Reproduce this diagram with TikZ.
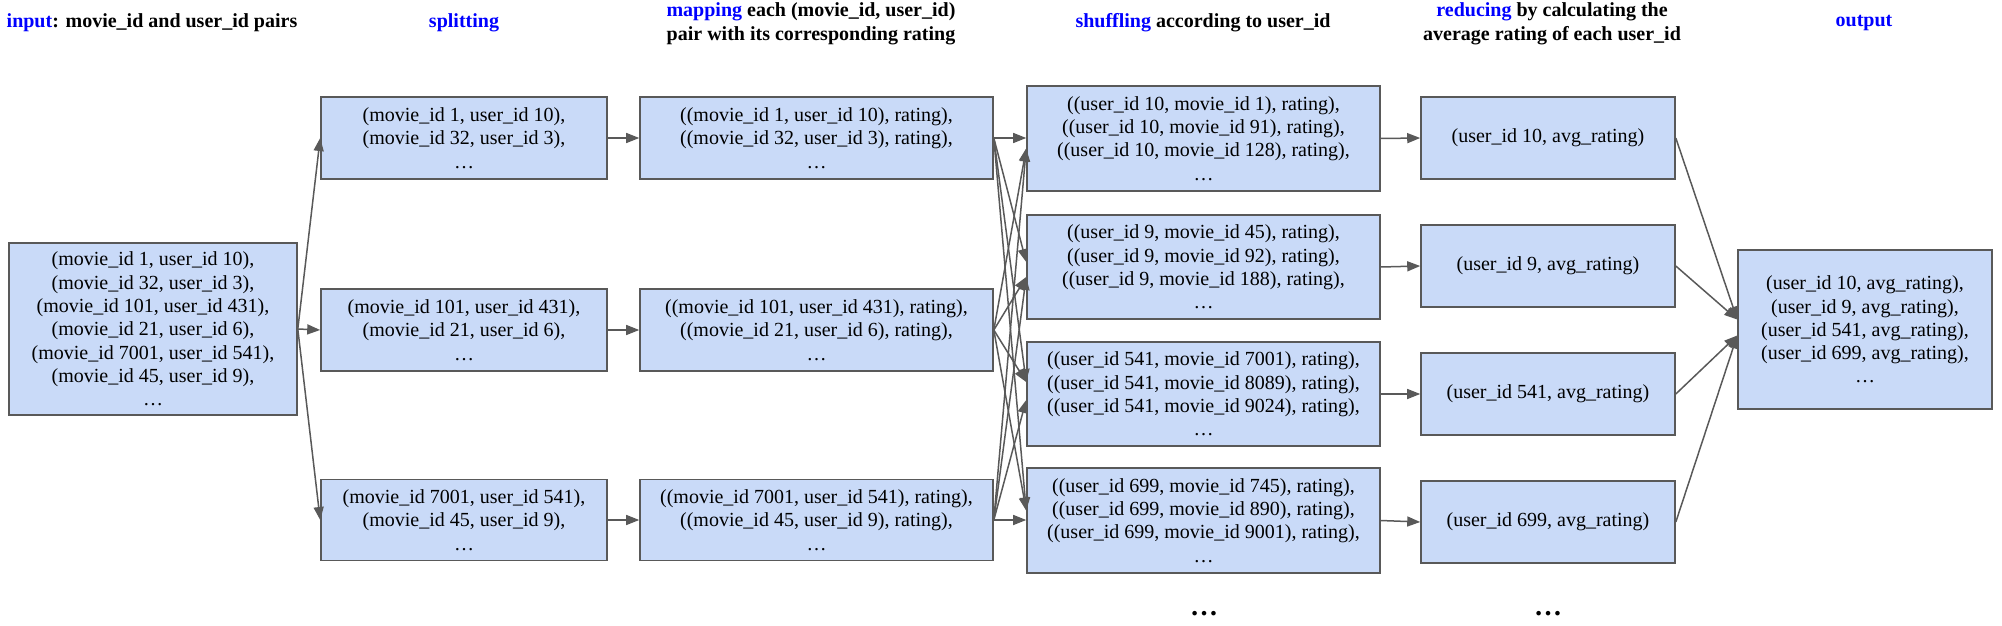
\documentclass[tikz,border=0pt]{standalone}
\usepackage{fontspec}
\setmainfont{Liberation Serif}
\usetikzlibrary{arrows.meta,calc}
\definecolor{boxfill}{HTML}{C9DAF8}
\definecolor{boxline}{HTML}{595959}
\definecolor{arrowcol}{HTML}{595959}
\definecolor{titleblue}{HTML}{0000FF}
\begin{document}
\begin{tikzpicture}[x=1pt,y=-1pt,
  box/.style={draw=boxline, fill=boxfill, line width=1.6pt, align=center, inner sep=0pt,
    font=\fontsize{20}{23.3}\selectfont},
  title/.style={align=center, inner sep=0pt, font=\bfseries\fontsize{20}{24}\selectfont},
  arr/.style={draw=arrowcol, line width=1.5pt, -{Triangle[length=13pt,width=10pt]}},
  dots/.style={inner sep=0pt, font=\bfseries\fontsize{28}{30}\selectfont}]
\useasboundingbox (0,0) rectangle (2002,626);

% titles
\node[title] (t1) at (152,23) {\textcolor{titleblue}{input}: movie\_id and user\_id pairs};
\node[title] (t2) at (464,23) {\textcolor{titleblue}{splitting}};
\node[title] (t3) at (811,24) {\textcolor{titleblue}{mapping} each (movie\_id, user\_id)\\pair with its corresponding rating};
\node[title] (t4) at (1203,23) {\textcolor{titleblue}{shuffling} according to user\_id};
\node[title] (t5) at (1552,24) {\textcolor{titleblue}{reducing} by calculating the\\average rating of each user\_id};
\node[title] (t6) at (1864,23) {\textcolor{titleblue}{output}};

% input
\node[box, minimum width=288pt, minimum height=172pt] (in) at (153,329)
  {(movie\_id 1, user\_id 10),\\(movie\_id 32, user\_id 3),\\(movie\_id 101, user\_id 431),\\(movie\_id 21, user\_id 6),\\(movie\_id 7001, user\_id 541),\\(movie\_id 45, user\_id 9),\\…};

% splitting
\node[box, minimum width=286pt, minimum height=82pt] (s1) at (464,138)
  {(movie\_id 1, user\_id 10),\\(movie\_id 32, user\_id 3),\\…};
\node[box, minimum width=286pt, minimum height=82pt] (s2) at (464,330)
  {(movie\_id 101, user\_id 431),\\(movie\_id 21, user\_id 6),\\…};
\node[box, minimum width=286pt, minimum height=81pt] (s3) at (464,520)
  {(movie\_id 7001, user\_id 541),\\(movie\_id 45, user\_id 9),\\…};

% mapping
\node[box, minimum width=353pt, minimum height=82pt] (m1) at (816.5,138)
  {((movie\_id 1, user\_id 10), rating),\\((movie\_id 32, user\_id 3), rating),\\…};
\node[box, minimum width=353pt, minimum height=82pt] (m2) at (816.5,330)
  {((movie\_id 101, user\_id 431), rating),\\((movie\_id 21, user\_id 6), rating),\\…};
\node[box, minimum width=353pt, minimum height=81pt] (m3) at (816.5,520)
  {((movie\_id 7001, user\_id 541), rating),\\((movie\_id 45, user\_id 9), rating),\\…};

% shuffling
\node[box, minimum width=353pt, minimum height=105pt] (h1) at (1203.5,138.5)
  {((user\_id 10, movie\_id 1), rating),\\((user\_id 10, movie\_id 91), rating),\\((user\_id 10, movie\_id 128), rating),\\…};
\node[box, minimum width=353pt, minimum height=104pt] (h2) at (1203.5,267)
  {((user\_id 9, movie\_id 45), rating),\\((user\_id 9, movie\_id 92), rating),\\((user\_id 9, movie\_id 188), rating),\\…};
\node[box, minimum width=353pt, minimum height=104pt] (h3) at (1203.5,394)
  {((user\_id 541, movie\_id 7001), rating),\\((user\_id 541, movie\_id 8089), rating),\\((user\_id 541, movie\_id 9024), rating),\\…};
\node[box, minimum width=353pt, minimum height=105pt] (h4) at (1203.5,520.5)
  {((user\_id 699, movie\_id 745), rating),\\((user\_id 699, movie\_id 890), rating),\\((user\_id 699, movie\_id 9001), rating),\\…};

% reducing
\node[box, minimum width=254pt, minimum height=82pt] (r1) at (1548,138) {(user\_id 10, avg\_rating)};
\node[box, minimum width=254pt, minimum height=82pt] (r2) at (1548,266) {(user\_id 9, avg\_rating)};
\node[box, minimum width=254pt, minimum height=82pt] (r3) at (1548,394) {(user\_id 541, avg\_rating)};
\node[box, minimum width=254pt, minimum height=82pt] (r4) at (1548,522) {(user\_id 699, avg\_rating)};

% output
\node[box, minimum width=254pt, minimum height=159pt] (out) at (1865,329.5)
  {(user\_id 10, avg\_rating),\\(user\_id 9, avg\_rating),\\(user\_id 541, avg\_rating),\\(user\_id 699, avg\_rating),\\…};

% bottom dots
\node[dots] (d1) at (1204,614) {…};
\node[dots] (d2) at (1548,614) {…};

% arrows input -> split
\draw[arr] (in.east) -- (s1.west);
\draw[arr] (in.east) -- (s2.west);
\draw[arr] (in.east) -- (s3.west);
% split -> map
\draw[arr] (s1.east) -- (m1.west);
\draw[arr] (s2.east) -- (m2.west);
\draw[arr] (s3.east) -- (m3.west);
% map -> shuffle
\draw[arr] (m1.east) -- ($(h1.west)+(0,-0.5)$);
\draw[arr] (m2.east) -- ($(h1.west)+(0,10)$);
\draw[arr] (m3.east) -- ($(h1.west)+(0,10)$);
\draw[arr] (m1.east) -- ($(h2.west)+(0,-5)$);
\draw[arr] (m2.east) -- ($(h2.west)+(0,10)$);
\draw[arr] (m3.east) -- ($(h2.west)+(0,10)$);
\draw[arr] (m1.east) -- ($(h3.west)+(0,-12)$);
\draw[arr] (m2.east) -- ($(h3.west)+(0,-12)$);
\draw[arr] (m3.east) -- ($(h3.west)+(0,6)$);
\draw[arr] (m1.east) -- ($(h4.west)+(0,-10)$);
\draw[arr] (m2.east) -- ($(h4.west)+(0,-10)$);
\draw[arr] (m3.east) -- ($(h4.west)+(0,-0.5)$);
% shuffle -> reduce
\draw[arr] (h1.east) -- (r1.west);
\draw[arr] (h2.east) -- (r2.west);
\draw[arr] (h3.east) -- (r3.west);
\draw[arr] (h4.east) -- (r4.west);
% reduce -> output
\draw[arr] (r1.east) -- ($(out.west)+(0,-10)$);
\draw[arr] (r2.east) -- ($(out.west)+(0,-10)$);
\draw[arr] (r3.east) -- ($(out.west)+(0,6)$);
\draw[arr] (r4.east) -- ($(out.west)+(0,6)$);
\end{tikzpicture}
\end{document}
